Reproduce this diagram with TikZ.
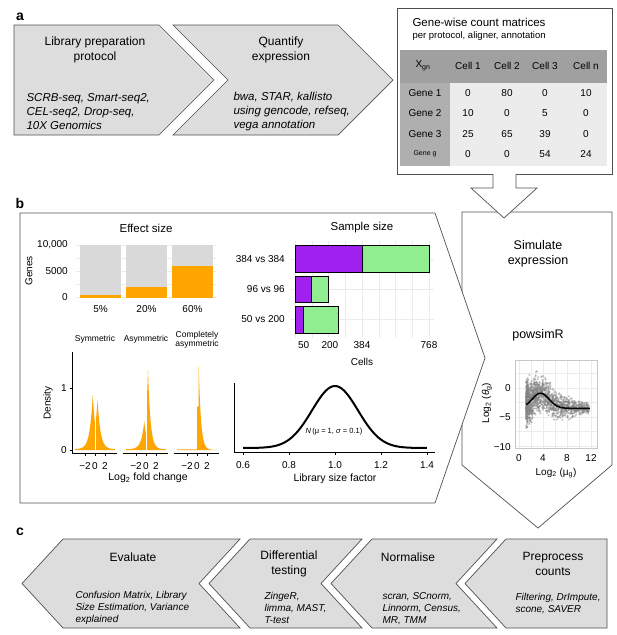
\documentclass[tikz,border=0pt]{standalone}
\usepackage{fontspec}
\setmainfont{Liberation Sans}

\tikzset{
  stage/.style={draw=r80g80b80, line width=0.7pt, fill=r221g221b221},
  frame/.style={draw=r80g80b80, line width=0.7pt, fill=white},
  head/.style={font=\fontsize{12}{14.5}\selectfont, align=center},
  tools/.style={font=\fontsize{11.5}{14}\selectfont\itshape, align=left, anchor=west},
  toolsc/.style={font=\fontsize{10}{12}\selectfont\itshape, align=left, anchor=west},
  panellabel/.style={font=\fontsize{14}{14}\selectfont\bfseries},
  charttitle/.style={font=\fontsize{11.5}{12}\selectfont},
  tick/.style={font=\fontsize{10}{10}\selectfont, inner sep=0pt},
  cell/.style={font=\fontsize{10}{10}\selectfont, inner sep=0pt},
  gridline/.style={draw=r235g235b235, line width=0.4pt},
  axisline/.style={draw=black, line width=0.6pt},
  bar/.style={draw=black, line width=0.6pt},
}

\begin{document}
\begin{tikzpicture}[x=1pt,y=-1pt]
% Defining colors
\definecolor{r80g80b80}{rgb}{0.313725,0.313725,0.313725}%
\definecolor{r221g221b221}{rgb}{0.866667,0.866667,0.866667}%
\definecolor{r160g160b160}{rgb}{0.627451,0.627451,0.627451}%
\definecolor{r175g175b175}{rgb}{0.686275,0.686275,0.686275}%
\definecolor{r236g236b236}{rgb}{0.925490,0.925490,0.925490}%
\definecolor{r217g217b217}{rgb}{0.850980,0.850980,0.850980}%
\definecolor{r255g165b0}{rgb}{1.000000,0.647059,0.000000}%
\definecolor{r235g235b235}{rgb}{0.921569,0.921569,0.921569}%
\definecolor{r160g32b240}{rgb}{0.627451,0.125490,0.941176}%
\definecolor{r144g238b144}{rgb}{0.564706,0.933333,0.564706}%
\definecolor{r130g130b130}{rgb}{0.509804,0.509804,0.509804}%
\definecolor{r200g200b200}{rgb}{0.784314,0.784314,0.784314}%

\useasboundingbox (0,0) rectangle (617,635);

% ---------------- Panel a ----------------
\node[panellabel] (la) at (20,17) {a};

% Drawing stage library preparation
\draw[stage] (14,25) -- (159,25) -- (214,80) -- (159,135) -- (14,135) -- cycle;
\node[head] (lib) at (95,50) {Library preparation\\protocol};
\node[tools] (libtools) at (23,112) {SCRB-seq, Smart-seq2,\\CEL-seq2, Drop-seq,\\10X Genomics};

% Drawing stage quantify
\draw[stage] (173,25) -- (338,25) -- (393,80) -- (338,135) -- (173,135) -- (228,80) -- cycle;
\node[head] (quant) at (281,50) {Quantify\\expression};
\node[tools] (quanttools) at (230,112) {bwa, STAR, kallisto\\using gencode, refseq,\\vega annotation};

% Drawing count matrix box
\draw[draw=r80g80b80, line width=0.7pt] (493,174) -- (397,174) -- (397,8) -- (612,8) -- (612,174) -- (516,174);
\node[anchor=west, font=\fontsize{11.5}{12}\selectfont] (mtitle) at (409,22) {Gene-wise count matrices};
\node[anchor=west, font=\fontsize{9.5}{10}\selectfont] (msub) at (409,36) {per protocol, aligner, annotation};

% Drawing table
\fill[r160g160b160] (400,50) rectangle (607,83);
\fill[r175g175b175] (400,83) rectangle (450,166);
\fill[r236g236b236] (450,83) rectangle (607,166);
\node[cell] (xgn) at (423,66) {X\textsubscript{gn}};
\foreach \c/\x in {1/468, 2/507, 3/545, n/586}
  \node[cell] (col\c) at (\x,66) {Cell \c};
\foreach \r/\y in {1/93, 2/113, 3/134}
  \node[cell] (row\r) at (425,\y) {Gene \r};
\node[cell, font=\fontsize{7}{7}\selectfont] (rowg) at (425,154) {Gene g};
\foreach \r/\y/\a/\b/\c/\d in {1/93/0/80/0/10, 2/113/10/0/5/0, 3/134/25/65/39/0, g/154/0/0/54/24} {
  \node[cell] (v\r-1) at (468,\y) {\a};
  \node[cell] (v\r-2) at (507,\y) {\b};
  \node[cell] (v\r-3) at (545,\y) {\c};
  \node[cell] (v\r-n) at (586,\y) {\d};
}

% ---------------- Panel b ----------------
\node[panellabel] (lb) at (20,203) {b};

% Drawing simulate panel
\draw[frame] (462,212) -- (612,212) -- (612,465) -- (538,528) -- (462,465) -- cycle;

% Drawing big pentagon
\draw[frame] (20,213) -- (435,213) -- (485,358) -- (435,503) -- (20,503) -- cycle;

% Drawing down arrow
\draw[frame] (493,174) -- (493,188) -- (471,188) -- (504,218) -- (537,188) -- (516,188) -- (516,174);

% Effect size
\node[charttitle] (efftitle) at (146,228) {Effect size};
\node[tick, rotate=90] (genes) at (29,271) {Genes};
\foreach \y in {245,258,271,284,297}
  \draw[gridline] (76,\y) -- (216,\y);
\node[tick, anchor=east] (e10k) at (68,245) {10,000};
\node[tick, anchor=east] (e5k) at (68,271) {5000};
\node[tick, anchor=east] (e0) at (68,297) {0};
\foreach \x/\h/\p in {80/2.6/5, 126/10.4/20, 172/31.2/60} {
  \fill[r217g217b217] (\x,245) rectangle (\x+41,297.5);
  \fill[r255g165b0] (\x,297.5-\h) rectangle (\x+41,297.5);
  \node[tick] (ep\p) at (\x+20.5,309) {\p\%};
}

% Fold change densities
\node[font=\fontsize{8.5}{9.5}\selectfont] (sym) at (95,339) {Symmetric};
\node[font=\fontsize{8.5}{9.5}\selectfont] (asym) at (146,339) {Asymmetric};
\node[font=\fontsize{8.5}{9.5}\selectfont, align=center] (casym) at (197,340) {Completely\\asymmetric};
\node[tick, rotate=90] (dens) at (48,403) {Density};
\draw[axisline] (72,352) -- (72,453);
\draw[axisline] (69.5,388) -- (72,388);
\draw[axisline] (69.5,450) -- (72,450);
\node[tick, anchor=east] (d1) at (67,388) {1};
\node[tick, anchor=east] (d0) at (67,450) {0};
\fill[r255g165b0] (75,450) -- plot[domain=-4:4, samples=161]
  ({95+5*\x},{450-62*(((\x<0) ? (0.88*exp(-abs(\x+0.45)/0.6)) : (0.8*exp(-abs(\x-0.5)/0.6)))+0.012)}) -- (115,450) -- cycle;
\fill[r255g165b0] (126,450) -- plot[domain=-4:4, samples=161]
  ({146+5*\x},{450-62*(((\x<0) ? (0.45*exp(-abs(\x+0.35)/0.6)) : (1.28*exp(-abs(\x-0.4)/0.5)))+0.012)}) -- (166,450) -- cycle;
\fill[r255g165b0] (177,450) -- plot[domain=-4:4, samples=161]
  ({197+5*\x},{450-62*(((\x<0) ? 0.012 : ((\x<0.3) ? 0.7 : (1.5*exp(-abs(\x-0.3)/0.45)))))}) -- (217,450) -- cycle;
\draw[white, line width=0.5pt] (95,395) -- (95,450);
\draw[white, line width=0.5pt] (146,395) -- (146,450);
\foreach \p/\xc in {1/95, 2/146, 3/197} {
  \draw[axisline] (\xc-23,453) -- (\xc+22,453);
  \foreach \tk in {-2,0,2}
    \draw[axisline] (\xc+5*\tk,453) -- (\xc+5*\tk,455.5);
  \node[tick] (fm\p) at (\xc-10,466) {−2};
  \node[tick] (fz\p) at (\xc,466) {0};
  \node[tick] (fp\p) at (\xc+10,466) {2};
}
\node[font=\fontsize{10.5}{11}\selectfont] (lfc) at (148,478) {Log\textsubscript{2} fold change};

% Sample size
\node[charttitle] (samptitle) at (362,228) {Sample size};
\foreach \k in {0,96,...,768}
  \draw[gridline] ({295+0.1745*\k},241) -- ({295+0.1745*\k},338);
\foreach \y in {259,289,319}
  \draw[gridline] (291,\y) -- (434,\y);
\foreach \ya/\yb/\a/\b in {245/272/384/768, 276/302/96/192, 306/333/50/250} {
  \filldraw[bar, fill=r160g32b240] (295,\ya) rectangle ({295+0.1745*\a},\yb);
  \filldraw[bar, fill=r144g238b144] ({295+0.1745*\a},\ya) rectangle ({295+0.1745*\b},\yb);
}
\node[tick, anchor=east] (s384) at (285,259) {384 vs 384};
\node[tick, anchor=east] (s96) at (285,289) {96 vs 96};
\node[tick, anchor=east] (s50) at (285,319) {50 vs 200};
\foreach \v in {50,200,384,768}
  \node[tick] (c\v) at ({295+0.1745*\v},345) {\v};
\node[tick] (cells) at (362,362) {Cells};

% Library size factor
\draw[axisline] (234,383) -- (234,452) -- (435,452);
\foreach \v/\lab in {0.6/0.6, 0.8/0.8, 1.0/1.0, 1.2/1.2, 1.4/1.4} {
  \draw[axisline] ({335+230*(\v-1)},452) -- ({335+230*(\v-1)},454.5);
  \node[tick] (lsf\lab) at ({335+230*(\v-1)},465) {\lab};
}
\draw[line width=2pt] plot[domain=0.6:1.4, samples=81]
  ({335+230*(\x-1)},{448-62*exp(-50*(\x-1)*(\x-1))});
\node[font=\fontsize{7.5}{8}\selectfont] (normlab) at (334,432) {\textit{N}\,(μ = 1, \textit{σ} = 0.1)};
\node[font=\fontsize{10.5}{11}\selectfont] (lsf) at (335,479) {Library size factor};

% Simulate expression
\node[head, font=\fontsize{12.5}{15}\selectfont] (sim) at (538,254) {Simulate\\expression};
\node[head, font=\fontsize{12.5}{15}\selectfont] (powsim) at (538,335) {powsimR};

% Drawing mean-dispersion scatter
\foreach \k in {0,2,...,12}
  \draw[gridline] ({519+6*\k},360) -- ({519+6*\k},448);
\foreach \v in {2.5,0,-2.5,-5,-7.5,-10}
  \draw[gridline] (515,{388-5.8*\v}) -- (597,{388-5.8*\v});
\begin{scope}
  \clip (515,360) rectangle (597,448);
  \pgfmathsetseed{11}
  \foreach \i in {1,...,1500} {
    \pgfmathsetmacro\xx{1.2+10.5*(max(rnd,0.001))^1.8}
    \pgfmathsetmacro\yy{-3.5+2.6*exp(-(\xx-3.6)*(\xx-3.6)/4)+(rand+rand+rand)*(1.9-0.13*\xx)}
    \fill[r130g130b130, opacity=0.5] ({519+6*\xx},{388-5.8*\yy}) circle (1.1pt);
  }
\end{scope}
\draw[line width=1.5pt] plot[domain=1.2:11.8, samples=60]
  ({519+6*\x},{388+5.8*(3.5-2.6*exp(-(\x-3.6)*(\x-3.6)/4))});
\draw[r200g200b200, line width=0.5pt] (515,360) rectangle (597,448);
\node[tick, anchor=east] (t0) at (511,388) {0};
\node[tick, anchor=east] (t5) at (511,417) {−5};
\node[tick, anchor=east] (t10) at (511,447) {−10};
\foreach \v in {0,4,8,12}
  \node[tick] (m\v) at ({519+6*\v},458) {\v};
\node[tick] (xmu) at (556,473) {Log\textsubscript{2} (μ\textsubscript{g})};
\node[tick, rotate=90] (ytheta) at (487,403) {Log\textsubscript{2} (\textit{θ}\textsubscript{g})};

% ---------------- Panel c ----------------
\node[panellabel] (lc) at (20,532) {c};

% Drawing stage evaluate
\draw[stage] (22,583.5) -- (63,539) -- (240,539) -- (199,583.5) -- (240,628) -- (63,628) -- cycle;
\node[head] (eval) at (133,557) {Evaluate};
\node[toolsc] (evaltools) at (72,608) {Confusion Matrix, Library\\Size Estimation, Variance\\explained};

% Drawing stage differential testing
\draw[stage] (209,583.5) -- (250,539) -- (362,539) -- (321,583.5) -- (362,628) -- (250,628) -- cycle;
\node[head] (diff) at (289,564) {Differential\\testing};
\node[toolsc] (difftools) at (261,608) {ZingeR,\\limma, MAST,\\T-test};

% Drawing stage normalise
\draw[stage] (331,583.5) -- (372,539) -- (497,539) -- (456,583.5) -- (497,628) -- (372,628) -- cycle;
\node[head] (norm) at (408,557) {Normalise};
\node[toolsc] (normtools) at (379,609) {scran, SCnorm,\\Linnorm, Census,\\MR, TMM};

% Drawing stage preprocess
\draw[stage] (465,583.5) -- (506,539) -- (607,539) -- (607,628) -- (506,628) -- cycle;
\node[head] (prep) at (553,564) {Preprocess\\counts};
\node[toolsc] (preptools) at (512,604) {Filtering, DrImpute,\\scone, SAVER};
\end{tikzpicture}
\end{document}
